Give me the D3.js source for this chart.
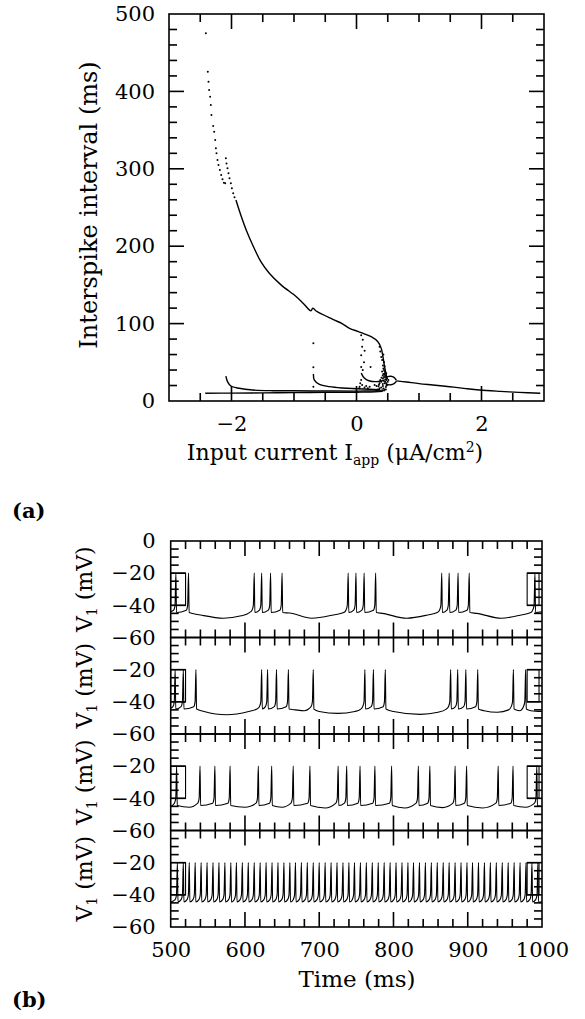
<!DOCTYPE html>
<html lang="en">
<head>
<meta charset="UTF-8">
<title>Interspike interval and voltage traces</title>
<script src="https://d3js.org/d3.v7.min.js"></script>
<style>
  body { margin: 0; background: #fff; }
  svg text { font-family: "DejaVu Serif", serif; fill: #000; }
  .frame { fill: none; stroke: #000; stroke-width: 1.6; }
  .tkr { fill: #000; stroke: none; }
  .branch { fill: none; stroke: #000; stroke-width: 1.4; }
  .trace { fill: none; stroke: #000; stroke-width: 1.1; }
</style>
</head>
<body>
<svg id="chart" width="585" height="1019"></svg>
<script>
// ---------- panel (a): interspike interval vs input current ----------
const isiXLabels = [-2, 0, 2];
const isiYLabels = [0, 100, 200, 300, 400, 500];

// sparse dots on the top of the upper branch
const isiTopDots = [
  [-2.41, 475], [-2.379, 425.5], [-2.368, 412.5], [-2.358, 401.8], [-2.342, 393.2],
  [-2.331, 382.4], [-2.321, 369.5], [-2.293, 355.3], [-2.277, 348], [-2.261, 337.2],
  [-2.25, 326.5], [-2.24, 320], [-2.224, 311.4], [-2.208, 304.9], [-2.186, 298.4],
  [-2.165, 292], [-2.144, 286.4], [-2.122, 282], [-2.101, 281.3],
  [-2.09, 313.6], [-2.08, 307], [-2.064, 300.6], [-2.048, 294.2], [-2.032, 287.7],
  [-2.01, 281.3], [-1.994, 274.8], [-1.973, 268.3], [-1.952, 263.2]
];
// upper branch (continuous part)
const isiUpper = [
  [-1.929, 259.7], [-1.85, 240], [-1.76, 220], [-1.652, 200], [-1.53, 180],
  [-1.395, 165], [-1.208, 150], [-0.967, 135], [-0.85, 126], [-0.73, 116.5],
  [-0.70, 120], [-0.646, 116.3], [-0.38, 105.5], [-0.23, 100], [-0.112, 93.9],
  [0.02, 90], [0.075, 88.3], [0.235, 83.1], [0.342, 76.6], [0.396, 68],
  [0.423, 57.3], [0.449, 44.3], [0.476, 33.6], [0.49, 28]
];
const isiLow = [
  [-2.42, 10], [-2.0, 10.2], [-1.5, 10.5], [-1.0, 10.8], [-0.5, 11.1],
  [0, 11.4], [0.3, 11.8], [0.42, 12.5]
];
const isiBranchA = [
  [-2.09, 32], [-2.064, 25], [-2.01, 19.4], [-1.876, 16.4], [-1.663, 14.2],
  [-1.342, 13.3], [-1.02, 13.2], [-0.5, 12.9], [0, 12.8], [0.38, 13]
];
const isiBranchB = [
  [-0.69, 35], [-0.674, 27], [-0.593, 21.5], [-0.433, 18.5], [-0.22, 16.8],
  [0.02, 15.9], [0.21, 15.1], [0.38, 14.5]
];
const isiBranchC = [
  [0.075, 36], [0.128, 29.3], [0.21, 25.8], [0.316, 25], [0.396, 25.8], [0.44, 27]
];
const isiBubbleUp = [[0.47, 30], [0.5, 31.5], [0.55, 32], [0.6, 30.5], [0.64, 26.5]];
const isiBubbleLo = [[0.47, 22], [0.5, 21], [0.55, 21], [0.6, 22.5], [0.64, 25.5]];
const isiRight = [
  [0.64, 26], [0.8, 24.5], [1.0, 22.5], [1.22, 20.7], [1.49, 18.5], [1.75, 16],
  [1.97, 14.2], [2.3, 12.5], [2.6, 11.2], [2.94, 10]
];
// scattered points (irregular region and isolated dots)
const isiCloud = [
  [-0.69, 74.5], [-0.69, 43.5], [-0.69, 18.5],
  [0.075, 85], [0.10, 79], [0.09, 70], [0.075, 59], [0.075, 44], [0.225, 44],
  [0.369, 70], [0.38, 64], [0.396, 57], [0.41, 53], [0.423, 46], [0.43, 42],
  [0.41, 38], [0.449, 34], [0.423, 29], [0.396, 25], [0.369, 23], [0.46, 31],
  [0.476, 36], [0.49, 29], [0.476, 27], [0.449, 23], [0.423, 19.5], [0.396, 17.6],
  [0.369, 16.4], [0.342, 15], [0.316, 14.2], [0.46, 25], [0.476, 23], [0.5, 25],
  [0.51, 27], [0.49, 21], [0.075, 27], [0.06, 23], [0.05, 18.5], [0.045, 16.5],
  [0.09, 20.7], [0.128, 17.6], [0.155, 19.4], [0.18, 16.4], [0.21, 18.5],
  [0.29, 20.7], [0.32, 19.4], [0.44, 40], [0.45, 38], [0.43, 35], [0.44, 31],
  [0.46, 28], [0.44, 26], [0.42, 22], [0.43, 16], [0.45, 15], [0.41, 14],
  [0.38, 13], [0.47, 18], [0.48, 20], [0.40, 30], [0.42, 33], [0.38, 27],
  [0.36, 21], [0.35, 19], [0.12, 50], [0.10, 40], [0.13, 65], [0.45, 45],
  [0.44, 50], [0.43, 60], [0.455, 36], [0.465, 33], [0.47, 15], [0.44, 13.5]
];

// ---------- panel (b): membrane potential traces ----------
const vYLabelsTop = [0, -20, -40, -60];
const vYLabels = [-20, -40, -60];
const timeLabels = [500, 600, 700, 800, 900, 1000];

const spikes1 = [507, 524, 612.5, 622.5, 634.5, 650, 739, 749.5, 760.5, 776,
  865, 875, 887, 902, 990.5];
const base1 = [[500, -44], [540, -46], [571, -48], [595, -46.5], [606, -44.5],
  [660, -44.8], [690, -48], [719, -46], [733, -44.5], [785, -45], [818, -48],
  [846, -46], [859, -44.5], [912, -45], [945, -48], [972, -46], [985, -44.5], [1000, -44]];

const spikes2 = [506, 517, 534, 622.5, 630.5, 642.5, 658.5, 692, 761.5, 773, 789,
  877, 886.5, 897.5, 913.5, 961.5, 978];
const base2 = [[500, -44], [545, -46], [575, -48], [605, -46], [616, -44.5],
  [668, -45], [680, -45.5], [700, -46], [725, -47.2], [748, -46], [756, -44.5],
  [800, -46], [836, -47.8], [860, -46.5], [871, -44.5], [922, -45.5], [940, -46.5],
  [955, -45], [970, -45.5], [985, -45.5], [1000, -46]];

const spikes3 = [508, 539.5, 559.5, 580, 618, 636, 665, 687.5, 725.5, 737, 755, 775,
  797.5, 833.5, 849, 883, 898.5, 941, 961, 993];
const base3 = [[500, -45], [525, -45.5], [600, -45.5], [650, -45.5], [708, -46],
  [815, -46], [866, -45.8], [920, -46], [978, -45.5], [1000, -45]];

const spikes4 = [509, 517, 525, 533, 541, 549, 557, 565, 573, 581, 588.5, 596.5,
  604.5, 612.5, 620.5, 628.5, 636.5, 644.5, 652.5, 660.5, 668, 676, 684, 692, 700,
  708, 716, 724, 732, 740, 747.5, 755.5, 763.5, 771.5, 779.5, 787.5, 795.5, 803.5,
  811.5, 819.5, 827, 835, 843, 851, 859, 867, 875, 883, 891, 899, 906.5, 914.5,
  922.5, 930.5, 938.5, 946.5, 954.5, 962.5, 970.5, 978.5, 986.5, 994.5];
const base4 = [[500, -44.5], [1000, -44.5]];

const traces = [
  { spikes: spikes1, base: base1 },
  { spikes: spikes2, base: base2 },
  { spikes: spikes3, base: base3 },
  { spikes: spikes4, base: base4 }
];
// small rectangles seen at both ends of every trace: [t0, t1] in ms, from -40 to -20 mV
const edgeBoxes = [[500, 520], [980, 996]];

// ---------- drawing ----------
const svg = d3.select("#chart");
const tickRects = [];   // inward ticks as thin filled bars [x, y, w, h], drawn last

function labelSet(g, axisFn, scale, values, pad, tx, ty, size) {
  g.append("g").attr("transform", `translate(${tx},${ty})`)
    .call(axisFn(scale).tickValues(values).tickSize(0).tickPadding(pad)
      .tickFormat(d => d < 0 ? "\u2212" + Math.abs(d) : d))
    .call(a => a.select(".domain").remove())
    .selectAll("text")
    .attr("font-family", "DejaVu Serif")
    .attr("font-size", size);
}

// collect inward ticks on all four sides, then draw the frame
function frameTicks(g, x, y, xMaj, xMin, yMaj, yMin) {
  const [l, r] = x.range(), [b, t] = y.range();
  const len = (v, maj) => maj.includes(v) ? 15 : 8;
  const w = 1.6;
  xMin.forEach(v => {
    const px = x(v), s = len(v, xMaj);
    tickRects.push([px - w / 2, b - s, w, s], [px - w / 2, t, w, s]);
  });
  yMin.forEach(v => {
    const py = y(v), s = len(v, yMaj);
    tickRects.push([l, py - w / 2, s, w], [r - s, py - w / 2, s, w]);
  });
  g.append("rect").attr("class", "frame")
    .attr("x", l).attr("y", t).attr("width", r - l).attr("height", b - t);
}

// panel (a)
const xa = d3.scaleLinear().domain([-3, 3]).range([169, 544]);
const ya = d3.scaleLinear().domain([0, 500]).range([401, 14]);
const ga = svg.append("g");

const lineA = d3.line().x(d => xa(d[0])).y(d => ya(d[1])).curve(d3.curveCatmullRom);
[isiUpper, isiLow, isiBranchA, isiBranchB, isiBranchC, isiBubbleUp, isiBubbleLo, isiRight]
  .forEach(br => ga.append("path").attr("class", "branch").attr("d", lineA(br)));
ga.append("g").selectAll("circle").data(isiTopDots.concat(isiCloud)).join("circle")
  .attr("cx", d => xa(d[0])).attr("cy", d => ya(d[1])).attr("r", 1);

frameTicks(ga, xa, ya, isiXLabels, d3.range(-2.5, 2.51, 0.5), isiYLabels, d3.range(20, 481, 20));
labelSet(ga, d3.axisBottom, xa, isiXLabels, 15, 0, 401, 21);
labelSet(ga, d3.axisLeft, ya, isiYLabels, 14, 169, 0, 21);

ga.append("text").attr("transform", "translate(97,205) rotate(-90)")
  .attr("text-anchor", "middle").attr("font-size", 24)
  .text("Interspike interval (ms)");

const xt = ga.append("text").attr("x", 335).attr("y", 460)
  .attr("text-anchor", "middle").attr("font-size", 22);
xt.append("tspan").text("Input current I");
xt.append("tspan").attr("font-size", 14).attr("dy", 5).text("app");
xt.append("tspan").attr("dy", -5).text(" (\u03bcA/cm");
xt.append("tspan").attr("font-size", 14).attr("dy", -8).text("2");
xt.append("tspan").attr("dy", 8).text(")");

svg.append("text").attr("x", 12).attr("y", 518).attr("font-size", 21)
  .attr("font-weight", "bold").text("(a)");

// panel (b)
const xb = d3.scaleLinear().domain([500, 1000]).range([170.7, 542]);
const panelTop = 541, panelH = 96.5;
const gb = svg.append("g");
const defs = svg.append("defs");

const lineB = (y) => d3.line().x(d => xb(d[0])).y(d => y(d[1])).curve(d3.curveMonotoneX);

traces.forEach((tr, i) => {
  const top = panelTop + i * panelH;
  const y = d3.scaleLinear().domain([-60, 0]).range([top + panelH, top]);
  const g = gb.append("g");

  defs.append("clipPath").attr("id", "clip" + i).append("rect")
    .attr("x", xb(500)).attr("y", top).attr("width", xb(1000) - xb(500)).attr("height", panelH);

  const pts = tr.base.filter(([t]) => tr.spikes.every(s => Math.abs(t - s) > 3.5))
    .map(d => [d[0], d[1]]);
  tr.spikes.forEach(s => pts.push([s - 3, -43], [s - 1.2, -40], [s, -20], [s + 0.8, -44.5]));
  pts.sort((a, b) => a[0] - b[0]);

  const tg = g.append("g").attr("clip-path", `url(#clip${i})`);
  tg.append("path").attr("class", "trace").attr("d", lineB(y)(pts));
  edgeBoxes.forEach(([t0, t1]) => {
    tg.append("rect").attr("class", "trace")
      .attr("x", xb(t0)).attr("y", y(-20)).attr("width", xb(t1) - xb(t0)).attr("height", y(-40) - y(-20));
  });

  frameTicks(g, xb, y, timeLabels, d3.range(520, 981, 20), [-20, -40], d3.range(-55, -4, 5));
  labelSet(g, d3.axisLeft, y, i === 0 ? vYLabelsTop : vYLabels, 15, xb(500), 0, 21);

  const vl = g.append("text")
    .attr("transform", `translate(92,${top + panelH / 2}) rotate(-90)`)
    .attr("text-anchor", "middle").attr("font-size", 22);
  vl.append("tspan").text("V");
  vl.append("tspan").attr("font-size", 14).attr("dy", 5).text("1");
  vl.append("tspan").attr("dy", -5).text(" (mV)");

  if (i === traces.length - 1) {
    labelSet(g, d3.axisBottom, xb, timeLabels, 15, 0, top + panelH, 21);
  }
});

svg.append("text").attr("x", 357).attr("y", 987).attr("text-anchor", "middle")
  .attr("font-size", 23).text("Time (ms)");

svg.append("text").attr("x", 12).attr("y", 1007).attr("font-size", 21)
  .attr("font-weight", "bold").text("(b)");

// ticks last, on top of everything
svg.append("g").selectAll("rect").data(tickRects).join("rect").attr("class", "tkr")
  .attr("x", d => d[0]).attr("y", d => d[1]).attr("width", d => d[2]).attr("height", d => d[3]);
</script>
</body>
</html>
